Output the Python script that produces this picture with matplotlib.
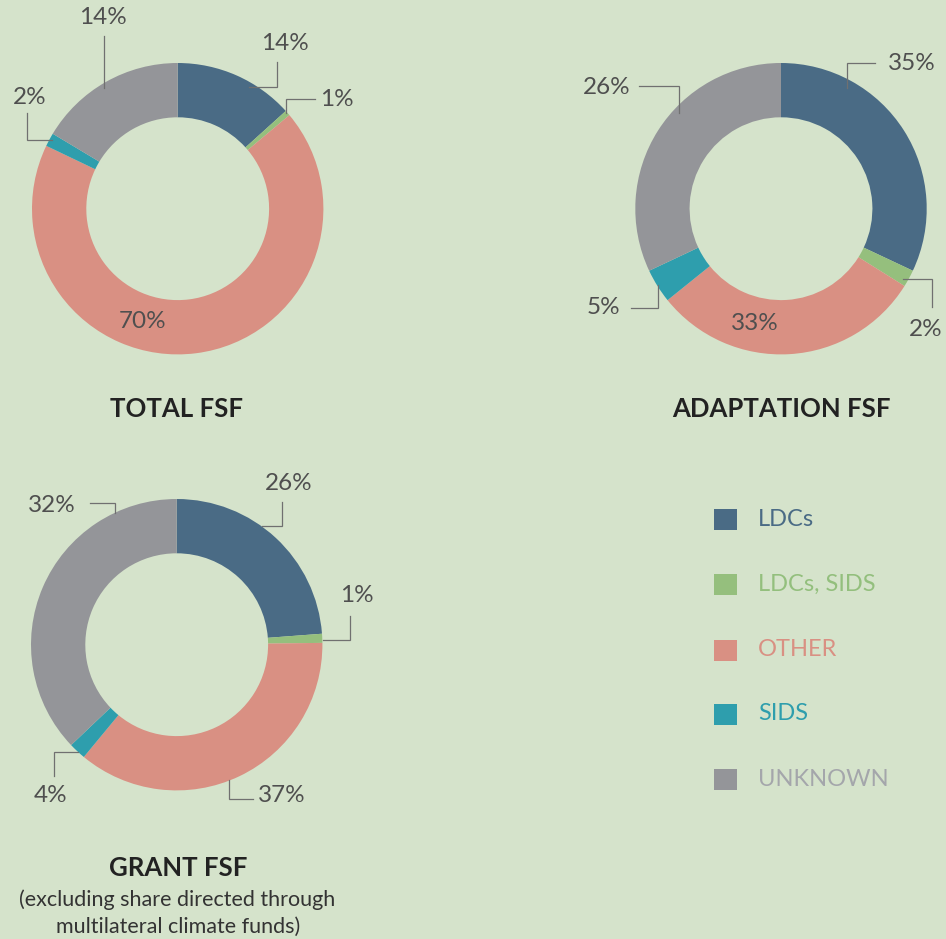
import matplotlib.pyplot as plt
from matplotlib.patches import Rectangle

plt.rcParams['font.family'] = ['Lato', 'DejaVu Sans']

W, H = 946, 939

categories = ['LDCs', 'LDCs, SIDS', 'OTHER', 'SIDS', 'UNKNOWN']
colors = ['#4a6b85', '#95bf7d', '#d99083', '#2e9ead', '#949599']
legend_text_colors = ['#4a6b85', '#93bf7d', '#d99083', '#2e9ead', '#a4a6ab']

# wedge shares as drawn (percent), and the printed labels
total_shares = [13.3, 0.6, 68.2, 1.5, 16.4]
total_labels = ['14%', '1%', '70%', '2%', '14%']
adapt_shares = [32.0, 1.9, 30.3, 3.8, 32.0]
adapt_labels = ['35%', '2%', '33%', '5%', '26%']
grant_shares = [23.8, 1.0, 36.2, 1.9, 37.1]
grant_labels = ['26%', '1%', '37%', '4%', '32%']

# layout (pixel coords, y down): centre, label position, leader path
R_OUT, R_IN = 145.7, 91.4
layout = {
    'total': dict(center=(177.7, 208.7),
                  text=[(285, 43), (337, 100), (143, 321), (30, 97), (103, 18)],
                  lead=[[(249, 87), (277, 87), (277, 62)],
                        [(286, 113), (286, 99), (315, 99)],
                        None,
                        [(52, 140), (27, 140), (27, 113)],
                        [(104, 88), (104, 36)]]),
    'adapt': dict(center=(781, 208.7),
                  text=[(912, 64), (926, 330), (755, 323), (603, 308), (607, 87)],
                  lead=[[(847, 88), (847, 63), (875, 63)],
                        [(903, 279), (932, 279), (932, 307)],
                        None,
                        [(658, 285), (658, 308), (631, 308)],
                        [(679, 113), (679, 86), (639, 86)]]),
    'grant': dict(center=(176.7, 644.7),
                  text=[(289, 483), (357, 596), (282, 796), (51, 795), (52, 505)],
                  lead=[[(262, 526), (282, 526), (282, 502)],
                        [(323, 640), (350, 640), (350, 616)],
                        [(229, 780), (229, 799), (253, 799)],
                        [(78, 752), (54, 752), (54, 776)],
                        [(115, 513), (115, 503), (90, 503)]]),
}

fig = plt.figure(figsize=(W / 100, H / 100), dpi=100)
fig.patch.set_facecolor('#d5e3cb')
ax = fig.add_axes([0, 0, 1, 1])
ax.set_facecolor('#d5e3cb')


def draw_donut(key, shares, labels):
    lay = layout[key]
    cx, cy = lay['center']
    ax.pie(shares, colors=colors, startangle=90, counterclock=False,
           center=(cx, H - cy), radius=R_OUT,
           wedgeprops=dict(width=R_OUT - R_IN, linewidth=0))
    for lab, (tx, ty), path in zip(labels, lay['text'], lay['lead']):
        ax.text(tx, H - ty, lab, ha='center', va='center', fontsize=17.5,
                color='#4f4f4f')
        if path:
            ax.plot([p[0] for p in path], [H - p[1] for p in path],
                    color='#707070', lw=0.9, solid_joinstyle='miter')


draw_donut('total', total_shares, total_labels)
draw_donut('adapt', adapt_shares, adapt_labels)
draw_donut('grant', grant_shares, grant_labels)

# titles
title_kw = dict(ha='center', va='center', fontsize=18.5, fontweight='bold',
                color='#222222')
ax.text(176, H - 409, 'TOTAL FSF', **title_kw)
ax.text(781, H - 409, 'ADAPTATION FSF', **title_kw)
ax.text(178, H - 868, 'GRANT FSF', **title_kw)
ax.text(177, H - 900, '(excluding share directed through', ha='center',
        va='center', fontsize=15.5, color='#333333')
ax.text(178, H - 927, 'multilateral climate funds)', ha='center',
        va='center', fontsize=15.5, color='#333333')

# legend
leg_y = [519, 584, 650, 714, 779]
for cat, col, tcol, yy in zip(categories, colors, legend_text_colors, leg_y):
    ax.add_patch(Rectangle((714, H - yy - 10.5), 23, 21, color=col, lw=0))
    ax.text(758, H - yy, cat, ha='left', va='center', fontsize=17, color=tcol)

ax.set_xlim(0, W)
ax.set_ylim(0, H)
ax.set_aspect('equal')
ax.axis('off')

plt.savefig('out.png', dpi=100, facecolor=fig.get_facecolor())
